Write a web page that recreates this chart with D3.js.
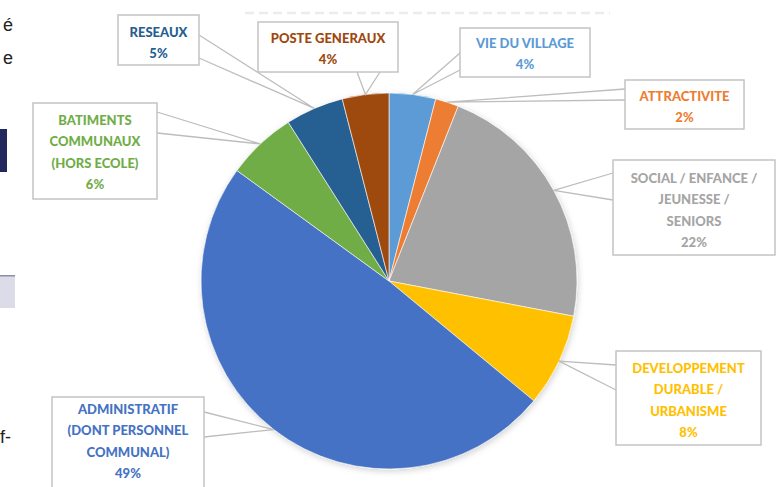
<!DOCTYPE html>
<html>
<head>
<meta charset="utf-8">
<script src="https://cdn.jsdelivr.net/npm/d3@7"></script>
<style>
  body { margin: 0; background: #fff; }
  svg { display: block; }
</style>
</head>
<body>
<div id="chart"></div>
<script>
// Pie chart with callout labels

const width = 776,
    height = 487,
    cx = 389, cy = 281,
    radius = 188;

// data, clockwise from 12 o'clock
const categories = ["VIE DU VILLAGE", "ATTRACTIVITE", "SOCIAL / ENFANCE / JEUNESSE / SENIORS",
  "DEVELOPPEMENT DURABLE / URBANISME", "ADMINISTRATIF (DONT PERSONNEL COMMUNAL)",
  "BATIMENTS COMMUNAUX (HORS ECOLE)", "RESEAUX", "POSTE GENERAUX"];
const values = [4, 2, 22, 8, 49, 6, 5, 4];
const labelLines = [
  ["VIE DU VILLAGE"],
  ["ATTRACTIVITE"],
  ["SOCIAL / ENFANCE /", "JEUNESSE /", "SENIORS"],
  ["DEVELOPPEMENT", "DURABLE /", "URBANISME"],
  ["ADMINISTRATIF", "(DONT PERSONNEL", "COMMUNAL)"],
  ["BATIMENTS", "COMMUNAUX", "(HORS ECOLE)"],
  ["RESEAUX"],
  ["POSTE GENERAUX"]
];
const palette = ["#5B9BD5", "#ED7D31", "#A5A5A5", "#FFC000", "#4472C4", "#70AD47", "#255E91", "#9E480E"];

// label box layout: x, y, w, h, first text line, two callout base points
const boxes = [
  { x: 460, y: 28, w: 130, h: 49, t: 43, a: [[460, 53], [460, 70]] },
  { x: 625, y: 80, w: 119, h: 49, t: 96, a: [[625, 89], [625, 100]] },
  { x: 613, y: 160, w: 162, h: 95, t: 178, a: [[613, 173], [613, 200]] },
  { x: 616, y: 351, w: 145, h: 94, t: 368, a: [[616, 365], [616, 390]] },
  { x: 52, y: 397, w: 152, h: 100, t: 409, a: [[204, 412], [204, 437]] },
  { x: 33, y: 103, w: 124, h: 96, t: 120, a: [[157, 112], [157, 133]] },
  { x: 118, y: 15, w: 81, h: 50, t: 32, a: [[199, 35], [199, 58]] },
  { x: 258, y: 22, w: 140, h: 50, t: 38, a: [[357, 72], [380, 72]] }
];

const svg = d3.select("#chart")
  .append("svg")
  .attr("width", width)
  .attr("height", height)
  .attr("viewBox", [0, 0, width, height]);

// bits of the surrounding page on the left edge
svg.append("text").attr("x", 3).attr("y", 31).text("é")
  .attr("font-family", "Liberation Sans, Arial").attr("font-size", 18).attr("fill", "#222");
svg.append("text").attr("x", 3).attr("y", 64).text("e")
  .attr("font-family", "Liberation Sans, Arial").attr("font-size", 18).attr("fill", "#222");
svg.append("rect").attr("x", 0).attr("y", 129).attr("width", 7).attr("height", 43).attr("fill", "#23285c");
svg.append("rect").attr("x", 0).attr("y", 275).attr("width", 15).attr("height", 33).attr("fill", "#dcdce9");
svg.append("rect").attr("x", 0).attr("y", 275).attr("width", 15).attr("height", 1.5).attr("fill", "#8c8cad");
svg.append("text").attr("x", 0).attr("y", 443).text("f-")
  .attr("font-family", "Liberation Sans, Arial").attr("font-size", 18).attr("fill", "#222");

// faint remains of the cut-off title
svg.append("line")
  .attr("x1", 245).attr("x2", 610).attr("y1", 13).attr("y2", 13)
  .attr("stroke", "#ececec").attr("stroke-width", 2.5)
  .attr("stroke-dasharray", "9 5");

const pie = d3.pie().sort(null).value(d => d)(values);
const arc = d3.arc().innerRadius(0).outerRadius(radius);
const edge = d3.arc().innerRadius(radius).outerRadius(radius);

const g = svg.append("g").attr("transform", `translate(${cx},${cy})`);

// soft shadow
const defs = svg.append("defs");
const f = defs.append("filter").attr("id", "shadow").attr("x", "-10%").attr("y", "-10%")
  .attr("width", "120%").attr("height", "120%");
f.append("feDropShadow").attr("dx", 1).attr("dy", 2).attr("stdDeviation", 3)
  .attr("flood-color", "#000").attr("flood-opacity", 0.18);

g.append("g")
  .attr("filter", "url(#shadow)")
  .selectAll("path")
  .data(pie)
  .join("path")
  .attr("d", arc)
  .attr("fill", (d, i) => palette[i])
  .attr("stroke", "#fff")
  .attr("stroke-width", 0.6);

// callouts
const labels = svg.append("g").attr("class", "labels");

pie.forEach((d, i) => {
  const b = boxes[i];
  const [tx, ty] = edge.centroid(d);
  const tip = [cx + tx, cy + ty];

  labels.append("path")
    .attr("d", `M${b.a[0][0]},${b.a[0][1]}L${tip[0]},${tip[1]}L${b.a[1][0]},${b.a[1][1]}`)
    .attr("fill", "none")
    .attr("stroke", "#bdbdbd")
    .attr("stroke-width", 1.3);

  labels.append("rect")
    .attr("x", b.x).attr("y", b.y)
    .attr("width", b.w).attr("height", b.h)
    .attr("fill", "#fff")
    .attr("stroke", "#c4c4c4")
    .attr("stroke-width", 1.5);

  const lines = labelLines[i].concat([d3.format(".0f")(values[i]) + "%"]);
  labels.append("text")
    .attr("text-anchor", "middle")
    .attr("font-family", "Lato, sans-serif")
    .attr("font-weight", 900)
    .attr("font-size", 13)
    .attr("fill", palette[i])
    .selectAll("tspan")
    .data(lines)
    .join("tspan")
    .attr("x", b.x + b.w / 2)
    .attr("y", (l, j) => b.t + j * 21.5)
    .attr("dy", "0.35em")
    .text(l => l);
});
</script>
</body>
</html>
